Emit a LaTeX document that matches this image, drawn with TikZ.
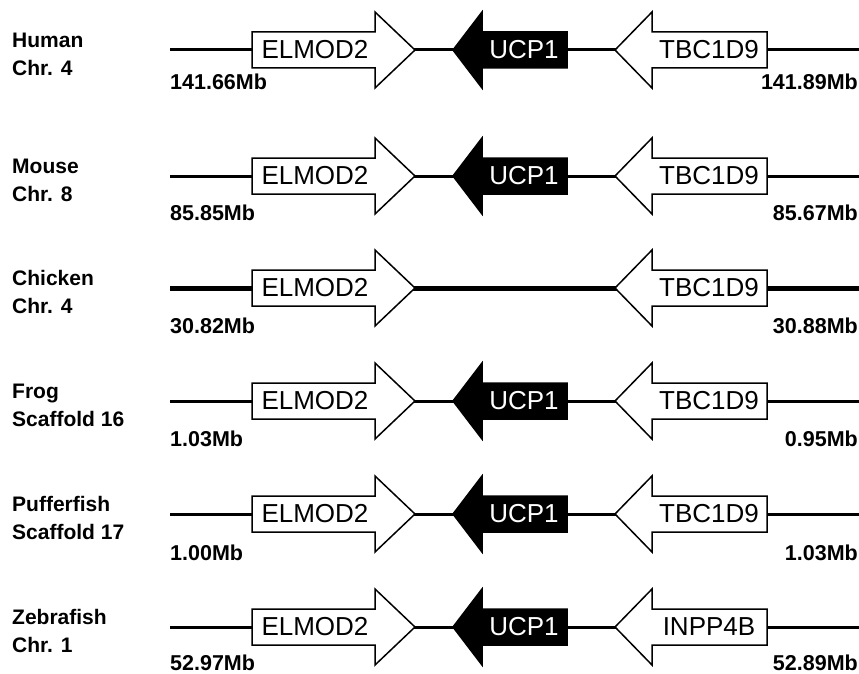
\documentclass[tikz,border=0pt]{standalone}
\usepackage{fontspec}
\setmainfont{Liberation Sans}

\begin{document}
\begin{tikzpicture}[x=1pt, y=-1pt,
        gene/.style={draw=black, line width=1.5pt, fill=white},
        ucpgene/.style={draw=black, line width=1.5pt, fill=black},
        genename/.style={inner sep=0pt, font=\fontsize{26}{30}\selectfont},
        species/.style={anchor=west, align=left, inner sep=0pt,
            font=\bfseries\fontsize{21}{28}\selectfont},
        mb/.style={inner sep=0pt, font=\bfseries\fontsize{21.5}{25}\selectfont},
        ]
        \useasboundingbox (0,0) rectangle (859,674);

        \foreach \i/\r/\spc/\lmb/\rmb/\dy/\lw/\ucp/\rgene in {
            1/50/{Human\\Chr. 4}/141.66Mb/141.89Mb/32/3pt/1/TBC1D9,
            2/176/{Mouse\\Chr. 8}/85.85Mb/85.67Mb/37/3pt/1/TBC1D9,
            3/288/{Chicken\\Chr. 4}/30.82Mb/30.88Mb/38/5pt/0/TBC1D9,
            4/401/{Frog\\Scaffold 16}/1.03Mb/0.95Mb/38/3pt/1/TBC1D9,
            5/514/{Pufferfish\\Scaffold 17}/1.00Mb/1.03Mb/39/3pt/1/TBC1D9,
            6/627/{Zebrafish\\Chr. 1}/52.97Mb/52.89Mb/36/3pt/1/INPP4B}
        {
        \begin{scope}[shift={(0,\r)}]
            \node (sp\i) [species] at (12,4) {\spc};

            \coordinate (L\i) at (170,0);
            \coordinate (R\i) at (859,0);
            \draw [line width=\lw] (L\i) -- (R\i);

            % ELMOD2, forward
            \draw [gene] (252,-18) -- (375,-18) -- (375,-38) -- (415,0)
                -- (375,38) -- (375,18) -- (252,18) -- cycle;
            \node (el\i) [genename] at (315,0) {ELMOD2};

            % UCP1, reverse
            \ifnum\ucp=1
            \draw [ucpgene] (453,0) -- (482,-38) -- (482,-18) -- (567,-18)
                -- (567,18) -- (482,18) -- (482,38) -- cycle;
            \node (ucp\i) [genename, text=white] at (524,0) {UCP1};
            \fi

            % right neighbour, reverse
            \draw [gene] (615,0) -- (652,-38) -- (652,-18) -- (767,-18)
                -- (767,18) -- (652,18) -- (652,38) -- cycle;
            \node (rg\i) [genename] at (709,0) {\rgene};

            \node (lmb\i) [mb, anchor=west] at (170,\dy) {\lmb};
            \node (rmb\i) [mb, anchor=east] at (858,\dy) {\rmb};
        \end{scope}
        }
    \end{tikzpicture}
\end{document}
